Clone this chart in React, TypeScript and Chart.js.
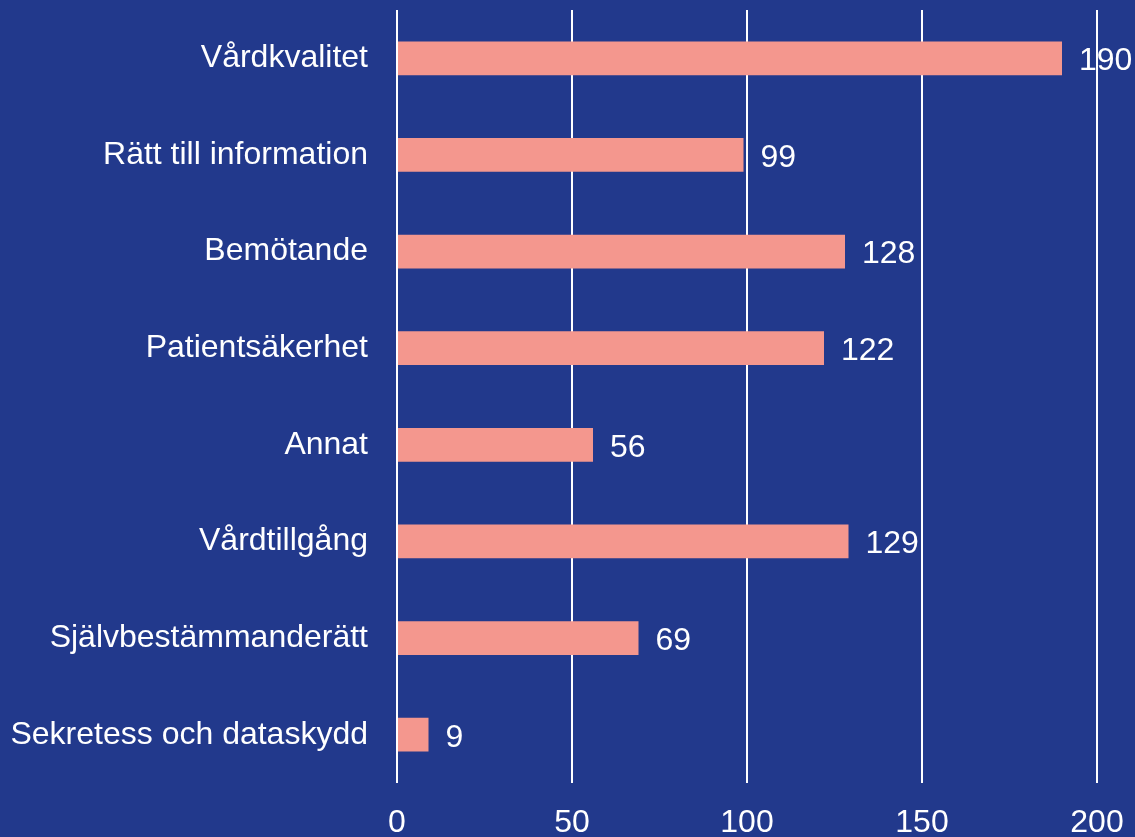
import { useEffect, useRef } from 'react';
import { Chart, registerables } from 'chart.js';
Chart.register(...registerables);

const categories = [
  'Vårdkvalitet',
  'Rätt till information',
  'Bemötande',
  'Patientsäkerhet',
  'Annat',
  'Vårdtillgång',
  'Självbestämmanderätt',
  'Sekretess och dataskydd',
];
const values = [190, 99, 128, 122, 56, 129, 69, 9];
const xTicks = [0, 50, 100, 150, 200];

const FAMILY = "'Liberation Sans', Arial, Helvetica, sans-serif";
const BG = '#22398C';
const BAR = '#F4978E';
const FS = 32;

export default function App() {
  const ref = useRef<HTMLCanvasElement>(null);
  useEffect(() => {
    document.body.style.margin = '0';
    const canvas = ref.current;
    if (!canvas) return;
    const labelPlugin = {
      id: 'valueLabels',
      beforeDraw(chart: any) {
        const ctx = chart.ctx;
        const meta = chart.getDatasetMeta(0);
        ctx.save();
        ctx.font = `${FS}px ${FAMILY}`;
        ctx.fillStyle = '#ffffff';
        ctx.textAlign = 'left';
        ctx.textBaseline = 'middle';
        meta.data.forEach((bar: any, i: number) => {
          ctx.fillText(String(values[i]), bar.x + 17, bar.y + 3);
        });
        ctx.restore();
      },
    };
    const chart = new Chart(canvas, {
      type: 'bar',
      data: {
        labels: categories,
        datasets: [
          {
            data: values,
            backgroundColor: BAR,
            borderWidth: 0,
            barPercentage: 0.35,
            categoryPercentage: 1,
          },
        ],
      },
      options: {
        indexAxis: 'y',
        animation: false,
        responsive: true,
        maintainAspectRatio: false,
        layout: { padding: { top: 10, right: 38, left: 0, bottom: 0 } },
        plugins: { legend: { display: false }, tooltip: { enabled: false } },
        scales: {
          x: {
            type: 'linear',
            min: 0,
            max: 200,
            afterBuildTicks: (scale: any) => {
              scale.ticks = xTicks.map((v) => ({ value: v }));
            },
            afterFit: (scale: any) => {
              scale.height = 54;
              scale.paddingLeft = 0;
              scale.paddingRight = 0;
            },
            grid: { color: '#ffffff', lineWidth: 2, drawTicks: false },
            border: { display: false },
            ticks: {
              color: '#ffffff',
              font: { family: FAMILY, size: FS, lineHeight: 1 },
              padding: 24,
              maxRotation: 0,
            },
          },
          y: {
            type: 'category',
            afterFit: (scale: any) => {
              scale.width = 397;
              scale.paddingTop = 0;
              scale.paddingBottom = 0;
            },
            grid: { display: false, drawTicks: false },
            border: { display: false },
            ticks: {
              color: '#ffffff',
              font: { family: FAMILY, size: FS },
              padding: 29,
            },
          },
        },
      },
      plugins: [labelPlugin],
    });
    return () => chart.destroy();
  }, []);
  return (
    <div
      style={{
        position: 'fixed',
        left: 0,
        top: 0,
        width: 1135,
        height: 837,
        background: BG,
      }}
    >
      <canvas ref={ref} />
    </div>
  );
}
